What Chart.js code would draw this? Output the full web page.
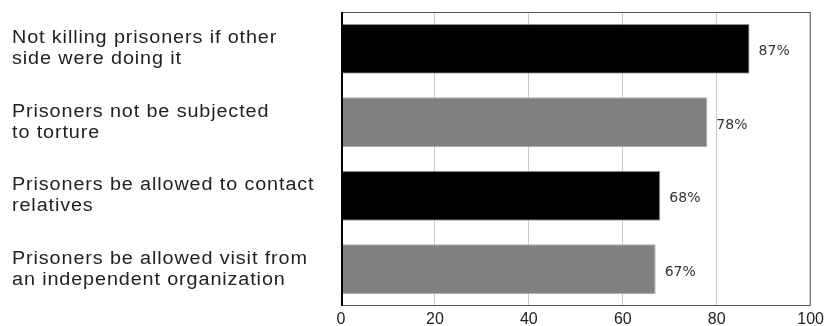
<!DOCTYPE html>
<html>
<head>
<meta charset="utf-8">
<script src="https://cdn.jsdelivr.net/npm/chart.js@4/dist/chart.umd.min.js"></script>
<style>
  html, body { margin: 0; padding: 0; background: #fff; }
  #wrap { width: 828px; height: 326px; }
</style>
</head>
<body>
<div id="wrap"><canvas id="myChart"></canvas></div>
<script>
// questions (one bar each, top to bottom)
const categories = [
  ["Not killing prisoners if other", "side were doing it"],
  ["Prisoners not be subjected", "to torture"],
  ["Prisoners be allowed to contact", "relatives"],
  ["Prisoners be allowed visit from", "an independent organization"]
];
// share agreeing, in percent
const valeurs = [87, 78, 68, 67];
const couleurs = ["#000000", "#808080", "#000000", "#808080"];
const ticksX = [0, 20, 40, 60, 80, 100];

// cadre gris autour de la zone + axe gauche noir
const cadrePlugin = {
  id: "cadre",
  afterDatasetsDraw(chart) {
    const { ctx, chartArea: a } = chart;
    ctx.save();
    ctx.strokeStyle = "#555";
    ctx.lineWidth = 1;
    ctx.strokeRect(a.left + 0.5, a.top + 0.5, a.right - a.left - 1, a.bottom - a.top - 1);
    ctx.strokeStyle = "#000";
    ctx.lineWidth = 2;
    ctx.beginPath();
    ctx.moveTo(a.left + 1, a.top);
    ctx.lineTo(a.left + 1, a.bottom);
    ctx.stroke();
    ctx.restore();
  }
};

// libellés des questions (police élargie) + pourcentages au bout des barres
const etiquettesPlugin = {
  id: "etiquettes",
  afterDatasetsDraw(chart) {
    const { ctx } = chart;
    const yScale = chart.scales.y;
    const meta = chart.getDatasetMeta(0);
    const etirement = 1.1;
    const interligne = 21;

    ctx.save();
    ctx.scale(etirement, 1);
    ctx.font = "18px 'Liberation Sans', Arial";
    ctx.letterSpacing = "0.8px";
    ctx.fillStyle = "#222";
    ctx.textAlign = "left";
    ctx.textBaseline = "middle";
    categories.forEach((lignes, i) => {
      const yc = yScale.getPixelForValue(i);
      const y0 = yc - (lignes.length - 1) * interligne / 2;
      lignes.forEach((txt, k) => ctx.fillText(txt, 12 / etirement, y0 + k * interligne));
    });
    ctx.restore();

    ctx.save();
    ctx.font = "14px 'DejaVu Sans'";
    ctx.fillStyle = "#333";
    ctx.textAlign = "left";
    ctx.textBaseline = "middle";
    meta.data.forEach((bar, i) => {
      ctx.fillText(valeurs[i] + "%", bar.x + 9, bar.y + 3);
    });
    ctx.restore();
  }
};

const ctx = document.getElementById("myChart");
new Chart(ctx, {
  type: "bar",
  data: {
    labels: categories,
    datasets: [{
      data: valeurs,
      backgroundColor: couleurs,
      borderColor: "#aaa",
      borderWidth: 1,
      borderSkipped: "start",
      barPercentage: 0.68,
      categoryPercentage: 1
    }]
  },
  options: {
    indexAxis: "y",
    responsive: true,
    maintainAspectRatio: false,
    animation: false,
    layout: { padding: { left: 12, right: 14, top: 12, bottom: 0 } },
    plugins: {
      legend: { display: false },
      tooltip: { enabled: false }
    },
    scales: {
      x: {
        min: 0,
        max: 100,
        afterBuildTicks: (scale) => { scale.ticks = ticksX.map(v => ({ value: v })); },
        afterFit: (scale) => { scale.height = 20; },
        grid: { color: "#c8c8c8", lineWidth: 1, drawTicks: false },
        border: { display: false },
        ticks: {
          padding: 4,
          color: "#222",
          font: { family: "'Liberation Sans', Arial", size: 16 }
        }
      },
      y: {
        afterFit: (scale) => {
          scale.width = 329;
          scale.paddingTop = 0;
          scale.paddingBottom = 0;
        },
        grid: { display: false, drawTicks: false },
        border: { display: false },
        ticks: { display: false }
      }
    }
  },
  plugins: [cadrePlugin, etiquettesPlugin]
});
</script>
</body>
</html>
